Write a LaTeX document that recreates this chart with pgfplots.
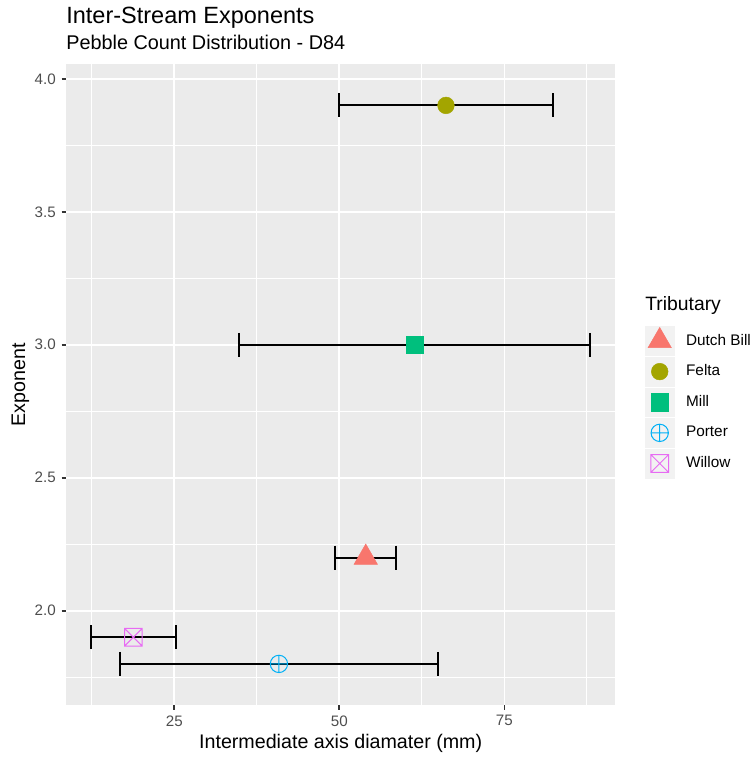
\documentclass[border=0pt]{standalone}
\usepackage{fontspec}
\setmainfont{Liberation Sans}
\usepackage{pgfplots}
\pgfplotsset{compat=1.18}
\definecolor{panelbg}{HTML}{EBEBEB}
\definecolor{keybg}{HTML}{F2F2F2}
\definecolor{grey30}{HTML}{4D4D4D}
\definecolor{grey20}{HTML}{333333}
\definecolor{cDutch}{HTML}{F8766D}
\definecolor{cFelta}{HTML}{A3A500}
\definecolor{cMill}{HTML}{00BF7D}
\definecolor{cPorter}{HTML}{00B0F6}
\definecolor{cWillow}{HTML}{E76BF3}
\pgfdeclareplotmark{sqx}{%
  \pgfpathrectangle{\pgfqpoint{-\pgfplotmarksize}{-\pgfplotmarksize}}{\pgfqpoint{2\pgfplotmarksize}{2\pgfplotmarksize}}%
  \pgfpathmoveto{\pgfqpoint{-\pgfplotmarksize}{-\pgfplotmarksize}}%
  \pgfpathlineto{\pgfqpoint{\pgfplotmarksize}{\pgfplotmarksize}}%
  \pgfpathmoveto{\pgfqpoint{-\pgfplotmarksize}{\pgfplotmarksize}}%
  \pgfpathlineto{\pgfqpoint{\pgfplotmarksize}{-\pgfplotmarksize}}%
  \pgfusepathqstroke}
\begin{document}
\begin{tikzpicture}
\useasboundingbox (0,0) rectangle (451.2pt,455.4pt);
\begin{axis}[
  at={(39.7pt,32.4pt)}, anchor=south west,
  scale only axis, width=329.4pt, height=384.4pt,
  xmin=8.62, xmax=91.78, ymin=1.6455, ymax=4.0545,
  axis background/.style={fill=panelbg},
  axis line style={draw=none},
  xtick={25,50,75}, ytick={2,2.5,3,3.5,4},
  minor xtick={12.5,37.5,62.5,87.5},
  minor ytick={1.75,2.25,2.75,3.25,3.75},
  grid=both,
  major grid style={white, line width=1.07pt},
  minor grid style={white, line width=0.53pt},
  tick pos=left, tick align=outside,
  major tick length=2.75pt, minor tick length=0pt,
  tick style={grey20, line width=1.07pt},
  ticklabel style={font=\fontsize{9.1}{10}\selectfont, text=grey30},
  /pgf/number format/assume math mode=true,
  yticklabel style={/pgf/number format/.cd, fixed, fixed zerofill, precision=1},
  legend style={at={(1.0543,0.5912)}, anchor=north west, draw=none, fill=none,
    inner sep=0pt, outer sep=0pt, row sep=0.7pt, column sep=0pt,
    nodes={inner sep=0pt, font=\fontsize{9.2}{10}\selectfont, text=black},
    /tikz/every odd column/.append style={column sep=7.0pt}},
  legend cell align=left,
  legend image code/.code={%
    \fill[keybg] (0pt,-8.64pt) rectangle (17.28pt,8.64pt);
    \draw[#1] plot coordinates {(8.64pt,0pt)};
  },
  errbar/.style={black, line width=1.2pt, mark=|, mark size=7.2pt, mark options={solid, black, line width=1.2pt}, forget plot},
]
% horizontal error bars (low, high)
\addplot[errbar] coordinates {(49.35,2.2) (58.65,2.2)};
\addplot[errbar] coordinates {(49.9,3.9) (82.4,3.9)};
\addplot[errbar] coordinates {(34.8,3.0) (88.0,3.0)};
\addplot[errbar] coordinates {(16.7,1.8) (65.0,1.8)};
\addplot[errbar] coordinates {(12.4,1.9) (25.2,1.9)};
% points
\addplot[only marks, mark=triangle*, mark size=8.1pt, color=cDutch, mark options={line width=0.3pt}]
  coordinates {(54.0,2.2)};
\addlegendentry{Dutch Bill}
\addplot[only marks, mark=*, mark size=5.0pt, color=cFelta, mark options={line width=0.3pt}]
  coordinates {(66.15,3.9)};
\addlegendentry{Felta}
\addplot[only marks, mark=square*, mark size=5.2pt, color=cMill, mark options={line width=0.3pt}]
  coordinates {(61.4,3.0)};
\addlegendentry{Mill}
\addplot[only marks, mark=oplus, mark size=5.2pt, color=cPorter, mark options={line width=0.6pt}]
  coordinates {(40.85,1.8)};
\addlegendentry{Porter}
\addplot[only marks, mark=sqx, mark size=5.3pt, color=cWillow, mark options={line width=0.6pt}]
  coordinates {(18.8,1.9)};
\addlegendentry{Willow}
\end{axis}
\node[anchor=base west, inner sep=0pt, font=\fontsize{14.1}{16}\selectfont] at (39.6pt,441pt) {Inter-Stream Exponents};
\node[anchor=base west, inner sep=0pt, font=\fontsize{11.9}{14}\selectfont] at (39.6pt,425.8pt) {Pebble Count Distribution - D84};
\node[anchor=base, inner sep=0pt, font=\fontsize{11.8}{14}\selectfont] at (204.4pt,6.6pt) {Intermediate axis diamater (mm)};
\node[anchor=base, rotate=90, inner sep=0pt, font=\fontsize{11.8}{14}\selectfont] at (15pt,224.4pt) {Exponent};
\node[anchor=base west, inner sep=0pt, font=\fontsize{11.6}{14}\selectfont] at (387pt,268.8pt) {Tributary};
\end{tikzpicture}
\end{document}
